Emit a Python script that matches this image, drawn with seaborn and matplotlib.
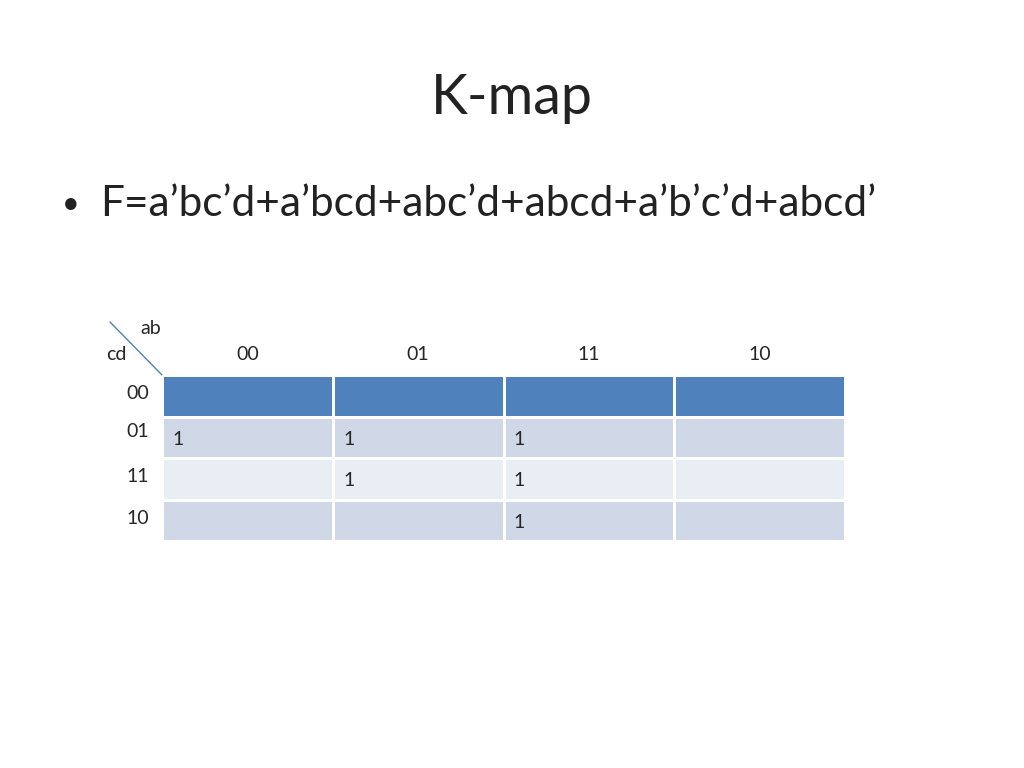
import matplotlib
matplotlib.use("Agg")
import matplotlib.pyplot as plt
import seaborn as sns
import numpy as np
from matplotlib.colors import ListedColormap

col_labels = ["00", "01", "11", "10"]   # ab
row_labels = ["00", "01", "11", "10"]   # cd
values = [[0, 0, 0, 0],
          [1, 1, 1, 0],
          [0, 1, 1, 0],
          [0, 0, 1, 0]]
row_style = [0, 1, 2, 1]
title = "K-map"
formula = "F=a\u2019bc\u2019d+a\u2019bcd+abc\u2019d+abcd+a\u2019b\u2019c\u2019d+abcd\u2019"

sns.set_theme(style="white")
plt.rcParams['font.family'] = ['Lato', 'DejaVu Sans']
fig = plt.figure(figsize=(10.24, 7.68), dpi=100)
bg = fig.add_axes([0, 0, 1, 1])
bg.set_xlim(0, 1024); bg.set_ylim(768, 0); bg.axis("off")
bg.text(512, 98, title, ha="center", va="center", fontsize=40, color="#222222")
bg.text(62, 204, "\u2022", ha="left", va="center", fontsize=22, color="#222222")
bg.text(100, 204, formula, ha="left", va="center", fontsize=30.5, color="#222222")
bg.plot([110, 162], [322, 375], color="#4F81BD", lw=1)
bg.text(151, 329, "ab", ha="center", va="center", fontsize=14)
bg.text(116, 355, "cd", ha="center", va="center", fontsize=14)

ax = fig.add_axes([162/1024, (768-541)/768, 683/1024, 166/768])
mat = np.array([[row_style[r]] * len(col_labels) for r in range(len(row_labels))])
cmap = ListedColormap(["#4F81BD", "#D0D8E8", "#E9EDF4"])
sns.heatmap(mat, ax=ax, cmap=cmap, vmin=-0.5, vmax=2.5, cbar=False,
            linewidths=2, linecolor="white", xticklabels=False, yticklabels=False)
for r in range(len(row_labels)):
    for c in range(len(col_labels)):
        if values[r][c]:
            ax.text(c + 0.06, r + 0.55, "1", ha="left", va="center", fontsize=14)
for c, lab in enumerate(col_labels):
    ax.text(c + 0.5, -0.5, lab, ha="center", va="center", fontsize=14)
for r, lab in enumerate(row_labels):
    ax.text(-0.14, r + 0.45 - (0.1 if r == 1 else 0), lab, ha="center", va="center", fontsize=14)
ax.set_xticks([]); ax.set_yticks([])
fig.savefig("out.png", dpi=100)
